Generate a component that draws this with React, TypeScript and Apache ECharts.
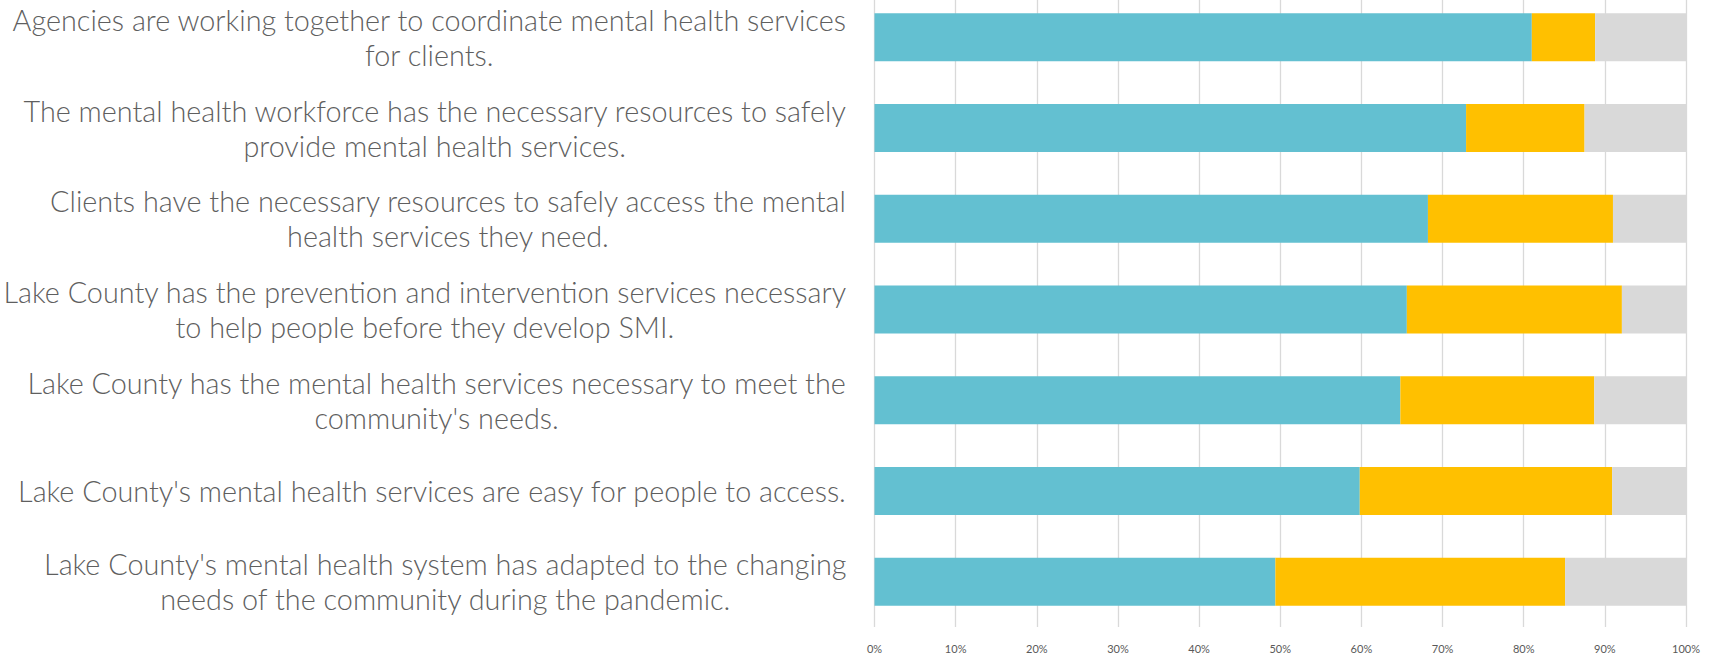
import React, { useEffect, useRef } from "react";
import * as echarts from "echarts";

const categories: string[] = [
  "Agencies are working together to coordinate mental health services\nfor clients.",
  "The mental health workforce has the necessary resources to safely\nprovide mental health services.",
  "Clients have the necessary resources to safely access the mental\nhealth services they need.",
  "Lake County has the prevention and intervention services necessary\nto help people before they develop SMI.",
  "Lake County has the mental health services necessary to meet the\ncommunity's needs.",
  "Lake County's mental health services are easy for people to access.",
  "Lake County's mental health system has adapted to the changing\nneeds of the community during the pandemic.",
];

const agreeValues: number[] = [81.0, 72.9, 68.2, 65.6, 64.8, 59.8, 49.4];
const neutralValues: number[] = [7.8, 14.6, 22.8, 26.5, 23.9, 31.1, 35.7];
const disagreeValues: number[] = [11.2, 12.5, 9.0, 7.9, 11.3, 9.1, 14.9];

const xTicks: number[] = [0, 10, 20, 30, 40, 50, 60, 70, 80, 90, 100];

export default function App() {
  const ref = useRef<HTMLDivElement>(null);

  useEffect(() => {
    if (!ref.current) return;
    const chart = echarts.init(ref.current, null, { renderer: "svg" });
    const barWidth = 48;
    const labelFont = {
      color: "#5f5f5f",
      fontFamily: "Lato",
      fontWeight: 300 as any,
      fontSize: 28.8,
      lineHeight: 35,
    };
    chart.setOption({
      animation: false,
      backgroundColor: "#ffffff",
      grid: {
        left: 874.5,
        right: 39,
        top: 0,
        bottom: 30,
        containLabel: false,
        outerBoundsMode: "none",
      },
      xAxis: {
        type: "value",
        min: xTicks[0],
        max: xTicks[xTicks.length - 1],
        interval: 10,
        axisLine: { show: false },
        axisTick: { show: false },
        splitLine: { show: true, lineStyle: { color: "#d9d9d9", width: 1.3 } },
        axisLabel: {
          formatter: (v: number) => `${v}%`,
          color: "#595959",
          fontFamily: "Lato",
          fontSize: 11,
          margin: 16,
        },
      },
      yAxis: {
        type: "category",
        data: categories,
        inverse: true,
        axisLine: { show: false },
        axisTick: { show: false },
        axisLabel: {
          margin: 28,
          ...labelFont,
          formatter: (v: string) =>
            v
              .split("\n")
              .map((l) => `{c|${l}}`)
              .join("\n"),
          rich: {
            c: { align: "center", ...labelFont },
          },
        },
      },
      series: [
        {
          name: "Agree",
          type: "bar",
          stack: "total",
          barWidth,
          data: agreeValues,
          itemStyle: { color: "#63c0d1" },
        },
        {
          name: "Neutral",
          type: "bar",
          stack: "total",
          barWidth,
          data: neutralValues,
          itemStyle: { color: "#ffc000" },
        },
        {
          name: "Disagree",
          type: "bar",
          stack: "total",
          barWidth,
          data: disagreeValues,
          itemStyle: { color: "#d9d9d9" },
        },
      ],
    });
    return () => chart.dispose();
  }, []);

  return (
    <div
      ref={ref}
      style={{ position: "absolute", left: 0, top: -8, width: 1725, height: 665 }}
    />
  );
}
